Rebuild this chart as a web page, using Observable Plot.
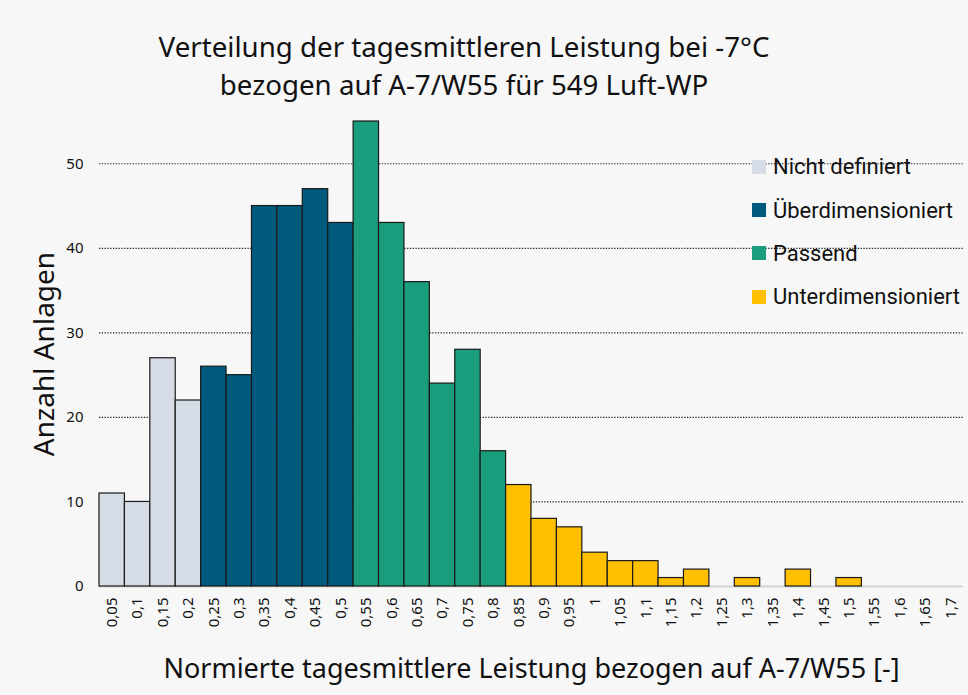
<!DOCTYPE html>
<html>
<head>
<meta charset="utf-8">
<script src="https://cdn.jsdelivr.net/npm/d3@7"></script>
<script src="https://cdn.jsdelivr.net/npm/@observablehq/plot@0.6"></script>
<style>
  body { margin: 0; background: #f7f7f7; }
  #wrap { position: relative; width: 968px; height: 695px; background: #f7f7f7; overflow: hidden; }
  #title { height: 110px; box-sizing: border-box; padding-top: 27px; padding-right: 40px; text-align: center;
    font-family: "Noto Sans", sans-serif; font-size: 27.7px; line-height: 38px; color: #111; }
  #legend { position: absolute; left: 752px; top: 145px; font-family: Roboto, sans-serif; font-size: 22px; color: #111; }
  .row { height: 43.4px; display: flex; align-items: center; }
  .sw { width: 14px; height: 14px; margin-right: 7px; }
</style>
</head>
<body>
<div id="wrap">
  <div id="title">Verteilung der tagesmittleren Leistung bei -7°C<br>bezogen auf A-7/W55 für 549 Luft-WP</div>
  <div id="chart"></div>
  <div id="legend"></div>
</div>
<script>
const categories = ["0,05","0,1","0,15","0,2","0,25","0,3","0,35","0,4","0,45","0,5","0,55","0,6","0,65","0,7","0,75","0,8","0,85","0,9","0,95","1","1,05","1,1","1,15","1,2","1,25","1,3","1,35","1,4","1,45","1,5","1,55","1,6","1,65","1,7"];
const counts = [11,10,27,22,26,25,45,45,47,43,55,43,36,24,28,16,12,8,7,4,3,3,1,2,0,1,0,2,0,1,0,0,0,0];
const groupNames = ["Nicht definiert","Überdimensioniert","Passend","Unterdimensioniert"];
const groupColors = ["#d5dce6","#005a7e","#199d7c","#ffc000"];
const groupOfBin = [0,0,0,0, 1,1,1,1,1,1, 2,2,2,2,2,2, 3,3,3,3,3,3,3,3,3,3,3,3,3,3,3,3,3,3];
const yTicks = [0,10,20,30,40,50];
const gridTicks = [10,20,30,40,50];
const yLabel = "Anzahl Anlagen";
const xLabel = "Normierte tagesmittlere Leistung bezogen auf A-7/W55 [-]";

const data = categories.map((c, i) => ({cat: c, n: counts[i], group: groupNames[groupOfBin[i]]}));

const chart = Plot.plot({
  width: 968,
  height: 585,
  marginTop: 11,
  marginBottom: 109,
  marginLeft: 99,
  marginRight: 5,
  style: {fontFamily: "'Noto Sans', sans-serif", fontSize: "15px", background: "transparent", color: "#111", overflow: "visible"},
  x: {type: "band", domain: categories, padding: 0, round: false},
  y: {domain: [0, 55]},
  color: {domain: groupNames, range: groupColors},
  marks: [
    Plot.gridY(gridTicks, {stroke: "#222", strokeOpacity: 1, strokeWidth: 1.2, strokeDasharray: "1.3,1.5"}),
    Plot.ruleY([0], {stroke: "#d4d4d4", strokeWidth: 2}),
    Plot.barY(data.filter(d => d.n > 0), {x: "cat", y: "n", fill: "group", stroke: "#1a1a1a", strokeWidth: 1.2}),
    Plot.axisY({ticks: yTicks, tickSize: 0, tickPadding: 16, label: null, fontSize: 15}),
    Plot.axisX({tickSize: 0, tickPadding: 11, tickRotate: -90, label: null, fontSize: 15}),
    Plot.text([yLabel], {text: d => d, frameAnchor: "left", rotate: -90, dx: -54, textAnchor: "middle", lineAnchor: "middle", fontSize: 28}),
    Plot.text([xLabel], {text: d => d, frameAnchor: "bottom", dy: 91, textAnchor: "middle", lineAnchor: "bottom", fontSize: 27})
  ]
});
document.getElementById("chart").appendChild(chart);

const legend = document.getElementById("legend");
groupNames.forEach((g, i) => {
  const row = document.createElement("div");
  row.className = "row";
  const sw = document.createElement("div");
  sw.className = "sw";
  sw.style.background = groupColors[i];
  const t = document.createElement("span");
  t.textContent = g;
  row.appendChild(sw); row.appendChild(t);
  legend.appendChild(row);
});
</script>
</body>
</html>
